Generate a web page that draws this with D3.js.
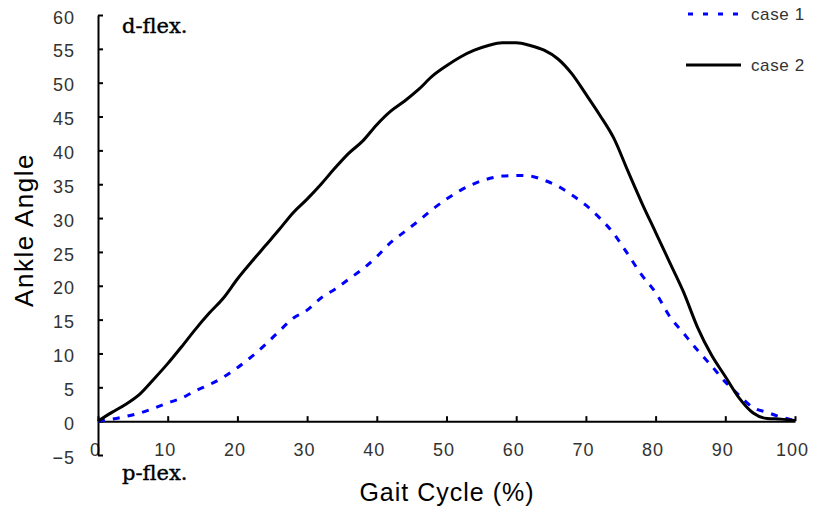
<!DOCTYPE html>
<meta charset="utf-8">
<script src="https://d3js.org/d3.v7.min.js"></script>
<style>
    body { margin: 0; background: #fff; }
    .tick text { font-family: "Liberation Sans", Arial, sans-serif; font-size: 18px; fill: #333; letter-spacing: 1px; }
    .domain, .tick line { stroke: #000; stroke-width: 2px; }
    .note { font-family: "DejaVu Serif", serif; font-size: 21px; fill: #000; stroke: #000; stroke-width: 0.4px; }
</style>
<body>
</body>
<script>
    // gait cycle (%) sampled every 2%
    var gaitPct = d3.range(0, 101, 2);

    // ankle angle
    var case1 = [0, 0.3, 0.7, 1.2, 1.9, 2.7, 3.4, 4.5, 5.4, 6.5,
                 7.9, 9.5, 11.3, 13.3, 15.2, 16.4, 18.2, 19.5, 21.0, 22.5,
                 24.3, 26.4, 28.0, 29.6, 31.3, 32.8, 34.1, 35.1, 35.8, 36.2,
                 36.3, 36.2, 35.6, 34.7, 33.4, 31.9, 30.0, 27.7, 24.7, 21.6,
                 19.0, 15.5, 13.0, 10.5, 8.2, 5.8, 3.8, 2.0, 1.3, 0.6, 0.1];
    var case2 = [0, 1.3, 2.5, 4.0, 6.2, 8.5, 11.0, 13.6, 16.0, 18.2,
                 21.0, 23.5, 25.9, 28.3, 30.8, 32.8, 35.0, 37.4, 39.6, 41.4,
                 43.8, 45.8, 47.3, 49.0, 51.0, 52.5, 53.8, 54.8, 55.5, 55.9,
                 55.9, 55.5, 54.8, 53.5, 51.3, 48.3, 45.2, 41.8, 37.0, 32.3,
                 27.9, 23.5, 19.1, 13.9, 9.8, 6.6, 3.4, 1.2, 0.4, 0.3, 0.1];

    var xTicks = d3.range(0, 101, 10);
    var yTicks = d3.range(-5, 61, 5);
    var seriesNames = ["case 1", "case 2"];

    var width = 813, height = 512;

    var svg = d3.select("body")
        .append("svg")
            .attr("width", width)
            .attr("height", height);

    var x = d3.scaleLinear().domain([0, 100]).range([98, 795]);
    var y = d3.scaleLinear().domain([-5, 60]).range([455, 15]);

    // x axis sits on zero, ticks point up
    var gx = svg.append("g")
        .attr("transform", "translate(0," + y(0) + ")")
        .call(d3.axisBottom(x).tickValues(xTicks).tickSizeInner(-5).tickSizeOuter(0).tickPadding(22));
    gx.selectAll(".tick text").attr("dx", "-3");

    // y axis, ticks inside
    svg.append("g")
        .attr("transform", "translate(" + x(0) + ",0)")
        .call(d3.axisLeft(y).tickValues(yTicks).tickSizeInner(-5).tickSizeOuter(0).tickPadding(23))
        .selectAll(".tick text").attr("dy", "0.45em");

    var line = d3.line()
        .x(function(d, i) { return x(gaitPct[i]); })
        .y(function(d) { return y(d); })
        .curve(d3.curveMonotoneX);

    svg.append("path")
        .datum(case1)
        .attr("d", line)
        .attr("fill", "none")
        .attr("stroke", "#0000ff")
        .attr("stroke-width", 3)
        .attr("stroke-dasharray", "7,8");

    svg.append("path")
        .datum(case2)
        .attr("d", line)
        .attr("fill", "none")
        .attr("stroke", "#000")
        .attr("stroke-width", 3);

    // legend
    var legend = svg.append("g");
    legend.append("line")
        .attr("x1", 688).attr("x2", 741).attr("y1", 14).attr("y2", 14)
        .attr("stroke", "#0000ff").attr("stroke-width", 3)
        .attr("stroke-dasharray", "5,10");
    legend.append("line")
        .attr("x1", 686).attr("x2", 741).attr("y1", 65).attr("y2", 65)
        .attr("stroke", "#000").attr("stroke-width", 3);
    legend.selectAll("text")
        .data(seriesNames)
        .enter()
        .append("text")
            .attr("x", 751)
            .attr("y", function(d, i) { return 14 + i * 51; })
            .attr("dy", "0.35em")
            .style("font-family", "Liberation Sans, Arial, sans-serif")
            .style("font-size", "17px")
            .style("letter-spacing", "0.6px")
            .style("fill", "#333")
            .text(function(d) { return d; });

    // annotations
    svg.append("text")
        .attr("class", "note")
        .attr("x", 122).attr("y", 33)
        .text("d-flex.");
    svg.append("text")
        .attr("class", "note")
        .attr("x", 122).attr("y", 480)
        .text("p-flex.");

    // axis titles
    svg.append("text")
        .attr("x", 447).attr("y", 501)
        .attr("text-anchor", "middle")
        .style("font-family", "Liberation Sans, Arial, sans-serif")
        .style("font-size", "25px")
        .style("letter-spacing", "1px")
        .text("Gait Cycle (%)");
    svg.append("text")
        .attr("transform", "translate(33,230) rotate(-90)")
        .attr("text-anchor", "middle")
        .style("font-family", "Liberation Sans, Arial, sans-serif")
        .style("font-size", "26px")
        .style("letter-spacing", "1.5px")
        .text("Ankle Angle");
</script>
